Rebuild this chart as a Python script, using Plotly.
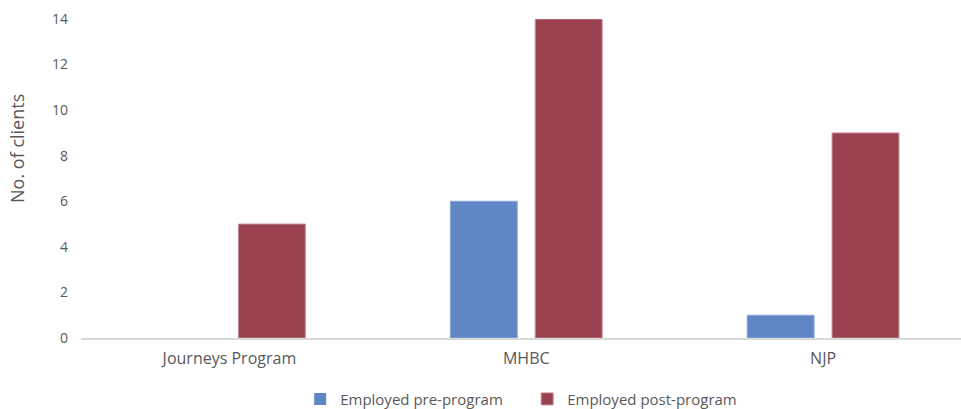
import plotly.graph_objects as go

categories = ["Journeys Program", "MHBC", "NJP"]
pre_program = [0, 6, 1]
post_program = [5, 14, 9]
y_ticks = [0, 2, 4, 6, 8, 10, 12, 14]

W, H = 961, 409
left, right_edge = 80.5, 961.0
top, bottom = 18.5, 337.7
cat_px = 297.0
x_end = -0.5 + (right_edge - left) / cat_px

font_family = "'Open Sans', Lato, sans-serif"
gray = "#595959"

fig = go.Figure()
fig.add_trace(go.Bar(
    name="Employed pre-program", x=categories, y=pre_program,
    marker=dict(color="#6186C5",
                line=dict(color="#8CA8DA", width=[0 if v == 0 else 1 for v in pre_program])),
))
fig.add_trace(go.Bar(
    name="Employed post-program", x=categories, y=post_program,
    marker=dict(color="#9B4250", line=dict(color="#C48A93", width=1)),
))

fig.update_layout(
    width=W, height=H,
    margin=dict(l=left, r=0, t=top, b=H - bottom, pad=0, autoexpand=False),
    paper_bgcolor="white", plot_bgcolor="white",
    barmode="group", bargap=0.428, bargroupgap=0.212,
    font=dict(family=font_family, color=gray, size=14),
    showlegend=True,
    legend=dict(
        orientation="h", x=0.507, xanchor="center", xref="paper",
        y=-0.14, yanchor="top", font=dict(size=15, color=gray),
        itemwidth=30, entrywidth=182, entrywidthmode="pixels",
    ),
)
fig.update_xaxes(
    type="category", range=[-0.5, x_end], automargin=False,
    showline=True, linecolor="#D9D9D9", linewidth=1.5,
    showgrid=False, ticks="", tickfont=dict(size=16, color=gray),
    ticklabelstandoff=5,
)
fig.update_yaxes(
    range=[0, 14], tickvals=y_ticks, showgrid=False, zeroline=False, automargin=False,
    showline=False, ticks="", tickfont=dict(size=14, color=gray),
    ticklabelstandoff=12,
)
fig.add_annotation(
    text="No. of clients", textangle=-90, showarrow=False,
    xref="paper", yref="paper", x=-(left - 17) / (right_edge - left), xanchor="center",
    y=(bottom - 148) / (bottom - top), yanchor="middle",
    font=dict(size=18, color=gray),
)

fig.write_html("out.html", config={"displayModeBar": False},
               post_script="document.body.style.margin='0';")
